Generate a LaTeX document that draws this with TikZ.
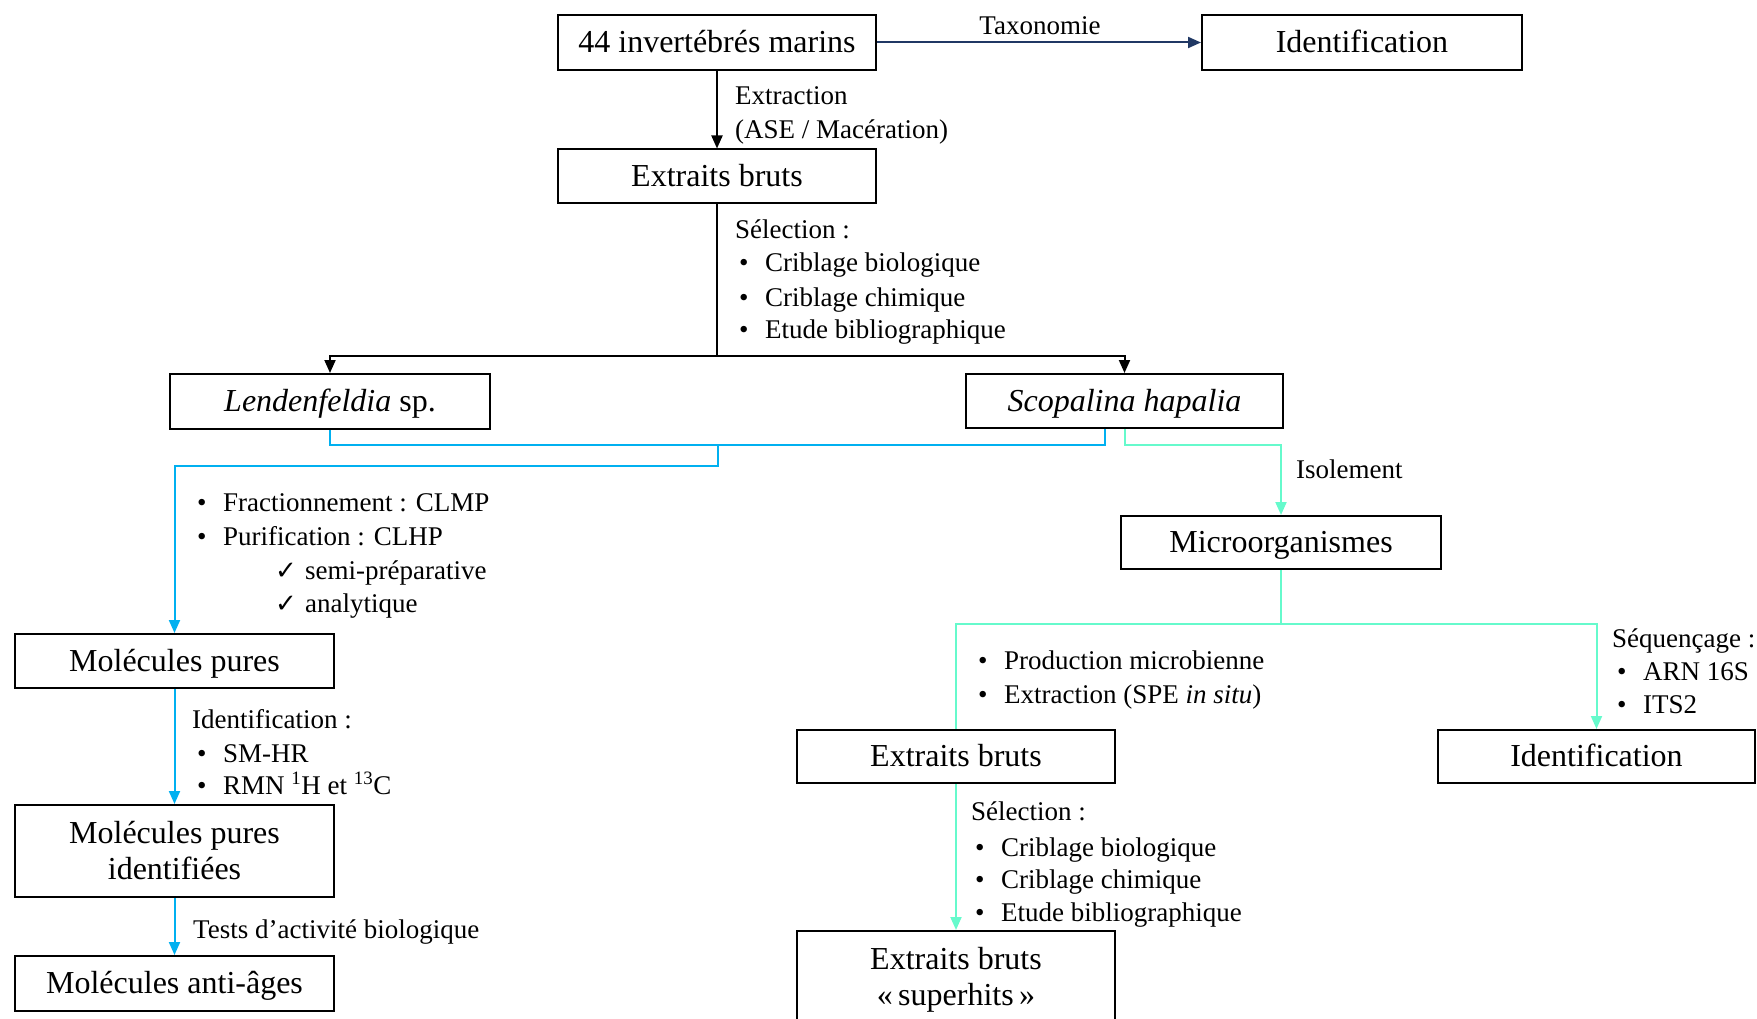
\documentclass[tikz,border=0pt]{standalone}
\usepackage{fontspec}
\setmainfont{Liberation Serif}
\newfontfamily\symfont{DejaVu Sans}
\usetikzlibrary{arrows.meta,calc}
\definecolor{navyline}{RGB}{32,56,100}
\definecolor{cyanline}{RGB}{0,176,240}
\definecolor{greenline}{RGB}{102,250,204}
\newcommand\bul{\makebox[26pt][l]{•}}
\newcommand\chk{\makebox[30pt][l]{{\symfont\fontsize{26}{26}\selectfont ✓}}}
\begin{document}
\begin{tikzpicture}[x=1pt,y=-1pt,
 boxbase/.style={draw, line width=2pt, inner sep=0pt, font=\fontsize{32}{36}\selectfont, align=center},
 box/.style={boxbase, text height=24pt, text depth=4pt},
 lbl/.style={anchor=west, inner sep=0pt, text height=22pt, text depth=2pt, font=\fontsize{27}{30}\selectfont},
 arr/.style={-{Triangle[length=13pt,width=11pt]}},
 conn/.style={line width=2pt},
]
\useasboundingbox (0,0) rectangle (1757,1019);
\clip (0,0) rectangle (1757,1019);

% boxes
\node[box, minimum width=318pt, minimum height=55pt] (A) at (717,42.5) {44 invertébrés marins};
\node[box, minimum width=320pt, minimum height=55pt] (IdT) at (1362,42.5) {Identification};
\node[box, minimum width=318pt, minimum height=54pt] (B) at (717,176.5) {Extraits bruts};
\node[box, minimum width=320pt, minimum height=55pt] (Lend) at (330,401.5) {\textit{Lendenfeldia} sp.};
\node[box, minimum width=317pt, minimum height=54pt] (Scop) at (1124.5,401) {\textit{Scopalina hapalia}};
\node[box, minimum width=320pt, minimum height=53pt] (Micro) at (1281,542.5) {Microorganismes};
\node[box, minimum width=318pt, minimum height=53pt] (EB2) at (956,756.5) {Extraits bruts};
\node[box, minimum width=317pt, minimum height=53pt] (Id2) at (1596.5,756.5) {Identification};
\node[boxbase, minimum width=318pt, minimum height=98pt] (SH) at (956,980) {Extraits bruts\\«\,superhits\,»};
\node[box, minimum width=319pt, minimum height=54pt] (MP) at (174.5,661) {Molécules pures};
\node[boxbase, minimum width=319pt, minimum height=92pt] (MPI) at (174.5,851) {Molécules pures\\identifiées};
\node[box, minimum width=319pt, minimum height=55pt] (MAA) at (174.5,983.5) {Molécules anti-âges};

% labels
\node[lbl, anchor=center] (tax) at (1040,25) {Taxonomie};
\node[lbl] (ext1) at (735,95) {Extraction};
\node[lbl] (ext2) at (735,129) {(ASE / Macération)};
\node[lbl] (sel1) at (735,229) {Sélection :};
\node[lbl] (sel1a) at (739,262) {\bul Criblage biologique};
\node[lbl] (sel1b) at (739,296) {\bul Criblage chimique};
\node[lbl] (sel1c) at (739,328) {\bul Etude bibliographique};
\node[lbl] (iso) at (1296,468) {Isolement};
\node[lbl] (prod) at (978,659) {\bul Production microbienne};
\node[lbl] (spe) at (978,693) {\bul Extraction (SPE \textit{in situ})};
\node[lbl] (seq) at (1612,637) {Séquençage :};
\node[lbl] (arn) at (1617,670) {\bul ARN 16S};
\node[lbl] (its) at (1617,703) {\bul ITS2};
\node[lbl] (sel2) at (971,810) {Sélection :};
\node[lbl] (sel2a) at (975,846) {\bul Criblage biologique};
\node[lbl] (sel2b) at (975,878) {\bul Criblage chimique};
\node[lbl] (sel2c) at (975,911) {\bul Etude bibliographique};
\node[lbl] (frac) at (197,501) {\bul Fractionnement : CLMP};
\node[lbl] (puri) at (197,535) {\bul Purification : CLHP};
\node[lbl] (semi) at (275,569) {\chk semi-préparative};
\node[lbl] (anal) at (275,602) {\chk analytique};
\node[lbl] (idl) at (192,718) {Identification :};
\node[lbl] (smhr) at (197,752) {\bul SM-HR};
\node[lbl] (rmn) at (197,784) {\bul RMN \textsuperscript{1}H et \textsuperscript{13}C};
\node[lbl] (tests) at (193,928) {Tests d’activité biologique};

% junction points
\coordinate (j1) at (717,356);
\coordinate (bj) at (718,445);
\coordinate (bk) at (718,466);
\coordinate (mj) at (1281,624);

% black / navy connectors
\draw[conn, navyline, arr] (A.east) -- (IdT.west);
\draw[conn, arr] (A.south) -- (B.north);
\draw[conn] (B.south) -- (j1);
\draw[conn, arr] (j1) -| (Lend.north);
\draw[conn, arr] (j1) -| (Scop.north);

% cyan connectors
\draw[conn, cyanline] (Lend.south) -- (Lend.south |- bj) -- ($(Scop.south |- bj)+(-20,0)$) -- ($(Scop.south)+(-20,0)$);
\draw[conn, cyanline, arr] (bj) -- (bk) -| (MP.north);
\draw[conn, cyanline, arr] (MP.south) -- (MPI.north);
\draw[conn, cyanline, arr] (MPI.south) -- (MAA.north);

% green connectors
\draw[conn, greenline, arr] (Scop.south) -- (Scop.south |- bj) -| (Micro.north);
\draw[conn, greenline] (Micro.south) -- (mj);
\draw[conn, greenline] (mj) -| (EB2.north);
\draw[conn, greenline, arr] (mj) -| (Id2.north);
\draw[conn, greenline, arr] (EB2.south) -- (SH.north);
\end{tikzpicture}
\end{document}
